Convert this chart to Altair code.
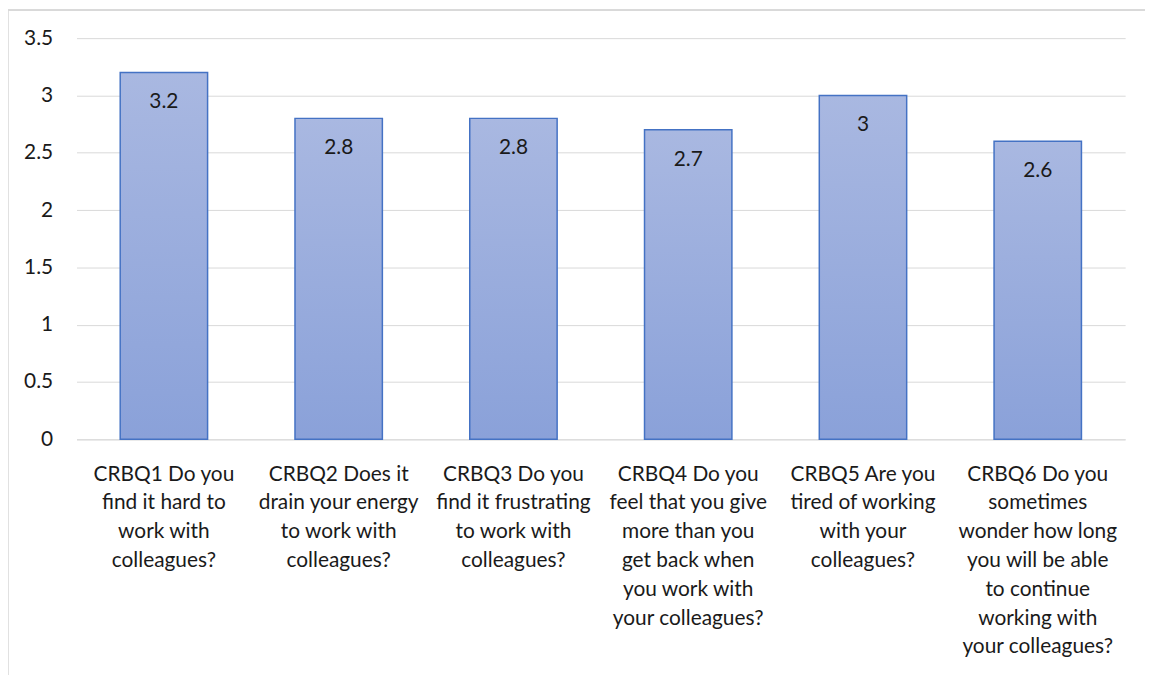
import altair as alt
import pandas as pd

categories = [
    "CRBQ1 Do you|find it hard to|work with|colleagues?",
    "CRBQ2 Does it|drain your energy|to work with|colleagues?",
    "CRBQ3 Do you|find it frustrating|to work with|colleagues?",
    "CRBQ4 Do you|feel that you give|more than you|get back when|you work with|your colleagues?",
    "CRBQ5 Are you|tired of working|with your|colleagues?",
    "CRBQ6 Do you|sometimes|wonder how long|you will be able|to continue|working with|your colleagues?",
]
values = [3.2, 2.8, 2.8, 2.7, 3.0, 2.6]
value_labels = ["3.2", "2.8", "2.8", "2.7", "3", "2.6"]

df = pd.DataFrame({"q": categories, "v": values, "lab": value_labels})

FONT = "Lato"
TXT = "#1a1a1a"

x = alt.X("q:N", sort=None, title=None,
          scale=alt.Scale(paddingInner=0.5, paddingOuter=0.25),
          axis=alt.Axis(labelExpr="split(datum.label, '|')", labelAngle=0,
                        labelFontSize=21, labelLineHeight=29, labelPadding=41,
                        labelBaseline="alphabetic", labelColor=TXT, labelFont=FONT,
                        ticks=False, domainColor="#d9d9d9", domainWidth=1,
                        labelLimit=300))
y = alt.Y("v:Q", title=None,
          scale=alt.Scale(domain=[0, 3.5]),
          axis=alt.Axis(values=[0, 0.5, 1, 1.5, 2, 2.5, 3, 3.5],
                        labelExpr="datum.value", labelFontSize=21,
                        labelColor=TXT, labelFont=FONT, labelPadding=24,
                        ticks=False, domain=False, gridColor="#d9d9d9",
                        gridWidth=1))

bars = alt.Chart(df).mark_bar(
    color=alt.Gradient(
        gradient="linear",
        stops=[alt.GradientStop(color="#a9b8e1", offset=0),
               alt.GradientStop(color="#8aa1d9", offset=1)],
        x1=0, x2=0, y1=0, y2=1),
    stroke="#4472c4", strokeWidth=1.5,
).encode(x=x, y=y)

text = alt.Chart(df).mark_text(
    baseline="alphabetic", dy=36, fontSize=21, font=FONT, color=TXT
).encode(x=alt.X("q:N", sort=None), y="v:Q", text="lab:N")

border_left = alt.Chart(df).mark_rule(color="#d9d9d9", strokeWidth=1.5).encode(
    x=alt.value(-69.5), y=alt.value(-28), y2=alt.value(700))
border_top = alt.Chart(df).mark_rule(color="#d9d9d9", strokeWidth=1.5).encode(
    x=alt.value(-69.5), x2=alt.value(1100), y=alt.value(-28))

chart = alt.layer(border_left, border_top, bars, text).properties(
    width=1056, height=404,
    autosize=alt.AutoSizeParams(type="none"),
    padding={"left": 69, "top": 28, "right": 20, "bottom": 235},
).configure_view(stroke=None)

chart.save("out.html", embed_options={"renderer": "svg", "actions": False})
